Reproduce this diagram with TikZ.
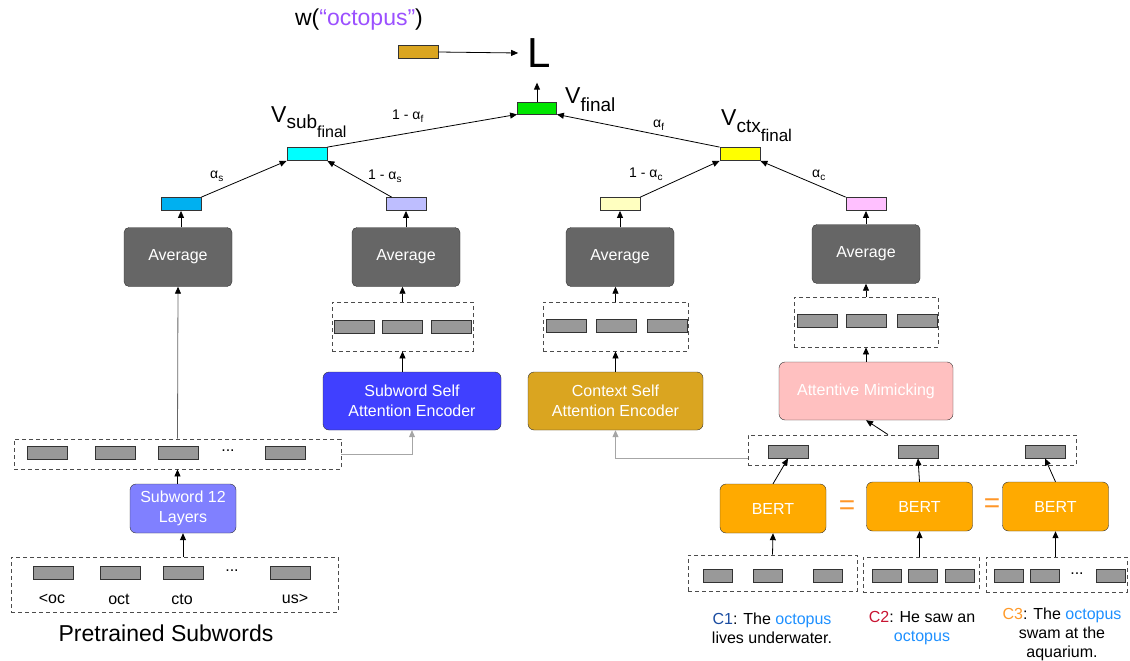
\documentclass[tikz,border=0pt]{standalone}
\usepackage{fontspec}
\setmainfont{Liberation Sans}
\usetikzlibrary{arrows.meta}
\definecolor{wgold}{RGB}{218,165,32}
\definecolor{vgreen}{RGB}{0,230,0}
\definecolor{vcyan}{RGB}{0,255,255}
\definecolor{vsky}{RGB}{0,176,240}
\definecolor{vlav}{RGB}{190,190,255}
\definecolor{vcream}{RGB}{255,255,192}
\definecolor{vyellow}{RGB}{255,255,0}
\definecolor{vpink}{RGB}{255,192,255}
\definecolor{avggray}{RGB}{102,102,102}
\definecolor{vecgray}{RGB}{153,153,153}
\definecolor{subblue}{RGB}{64,64,255}
\definecolor{layblue}{RGB}{128,128,255}
\definecolor{mimpink}{RGB}{255,192,192}
\definecolor{bertorange}{RGB}{255,170,0}
\definecolor{eqorange}{RGB}{255,150,40}
\definecolor{wpurple}{RGB}{155,80,255}
\definecolor{cone}{RGB}{25,75,160}
\definecolor{ctwo}{RGB}{200,20,50}
\definecolor{cthree}{RGB}{255,153,40}
\definecolor{octblue}{RGB}{30,144,255}
\tikzset{
  vec/.style={draw=black!80, line width=0.8pt, fill=vecgray, minimum width=40pt, minimum height=13pt, inner sep=0pt},
  tok/.style={vec, minimum width=29pt},
  dashbox/.style={draw=black!70, line width=0.8pt, dash pattern=on 4pt off 3pt, inner sep=0pt},
  avgbox/.style={draw=black!80, fill=avggray, rounded corners=5pt, minimum width=108pt, minimum height=59pt, text=white, font=\fontsize{16}{19}\selectfont},
  block/.style={draw=black!80, rounded corners=6pt, minimum width=106pt, minimum height=49pt, text=white, align=center, font=\fontsize{16}{20}\selectfont},
  arr/.style={-{Triangle[length=7pt,width=6pt]}, line width=0.8pt},
  grayarr/.style={arr, draw=black!35},
  wt/.style={font=\fontsize{14}{16}\selectfont, inner sep=0pt, anchor=base west},
  txt/.style={font=\fontsize{16}{19}\selectfont, inner sep=0pt, align=center},
}
\begin{document}
\begin{tikzpicture}[x=1pt,y=-1pt]
  \useasboundingbox (0,0) rectangle (1130,661);
  % loss
  \node[font=\fontsize{23}{26}\selectfont, inner sep=0pt] (wlbl) at (359,20) {w(\textcolor{wpurple}{“octopus”})};
  \node[vec, fill=wgold] (wvec) at (418,52) {};
  \node[font=\fontsize{42}{42}\selectfont, inner xsep=9pt, inner ysep=15pt] (loss) at (539,53) {L};
  \node[vec, fill=vgreen, minimum width=39pt, minimum height=12pt] (vfinal) at (537,108) {};
  \node[inner sep=0pt, anchor=base west] (vfinallbl) at (565,103)
    {{\fontsize{23}{23}\selectfont V}\raisebox{-8pt}{\fontsize{19}{19}\selectfont final}};
  % combined vectors
  \node[vec, fill=vcyan] (vsub) at (307,154) {};
  \node[vec, fill=vyellow] (vctx) at (740,154) {};
  \node[inner sep=0pt, anchor=base west] (vsublbl) at (271,122)
    {{\fontsize{23}{23}\selectfont V}\raisebox{-6pt}{\fontsize{19}{19}\selectfont sub\raisebox{-9pt}{\fontsize{16}{16}\selectfont final}}};
  \node[inner sep=0pt, anchor=base west] (vctxlbl) at (721,125)
    {{\fontsize{23}{23}\selectfont V}\raisebox{-7pt}{\fontsize{19}{19}\selectfont ctx\raisebox{-9pt}{\fontsize{17}{17}\selectfont final}}};
  \node[vec, fill=vsky] (vsubl) at (181,204) {};
  \node[vec, fill=vlav] (vsubr) at (406,204) {};
  \node[vec, fill=vcream] (vctxl) at (620,204) {};
  \node[vec, fill=vpink] (vctxr) at (866,204) {};
  % weights
  \node[wt] (af1) at (392,119) {1 - α\raisebox{-3pt}{\fontsize{10}{10}\selectfont f}};
  \node[wt] (af2) at (653,127) {α\raisebox{-3pt}{\fontsize{10}{10}\selectfont f}};
  \node[wt] (as1) at (210,178) {α\raisebox{-3pt}{\fontsize{10}{10}\selectfont s}};
  \node[wt] (as2) at (368,179) {1 - α\raisebox{-3pt}{\fontsize{10}{10}\selectfont s}};
  \node[wt] (ac1) at (629,177) {1 - α\raisebox{-3pt}{\fontsize{10}{10}\selectfont c}};
  \node[wt] (ac2) at (812,177) {α\raisebox{-3pt}{\fontsize{10}{10}\selectfont c}};
  % averages
  \node[avgbox] (avg1) at (178,257) {Average};
  \node[avgbox] (avg2) at (406,257) {Average};
  \node[avgbox] (avg3) at (620,257) {Average};
  \node[avgbox] (avg4) at (866,254) {Average};
  % subword branch
  \node[dashbox, minimum width=327pt, minimum height=30pt] (subrow) at (177.5,454) {};
  \node[vec] (sr1) at (47,452.5) {};
  \node[vec] (sr2) at (115,452.5) {};
  \node[vec] (sr3) at (178,452.5) {};
  \node[txt] (srdots) at (228,451) {...};
  \node[vec] (sr4) at (285.5,452.5) {};
  \node[block, fill=layblue] (sub12) at (183,508.5) {Subword 12\\Layers};
  \node[dashbox, minimum width=327pt, minimum height=55pt] (inrow) at (174.5,584.5) {};
  \node[vec] (ir1) at (53,573) {};
  \node[vec] (ir2) at (120,573) {};
  \node[vec] (ir3) at (183,573) {};
  \node[txt] (irdots) at (232,571) {...};
  \node[vec] (ir4) at (290,573) {};
  \node[txt] (irl1) at (52,599) {<oc};
  \node[txt] (irl2) at (119,599) {oct};
  \node[txt] (irl3) at (182,599) {cto};
  \node[txt] (irl4) at (295,599) {us>};
  \node[font=\fontsize{23}{26}\selectfont, inner sep=0pt] (pretrained) at (166,633) {Pretrained Subwords};
  \node[block, fill=subblue, minimum width=178pt, minimum height=58pt] (subatt) at (412,401) {Subword Self\\Attention Encoder};
  \node[dashbox, minimum width=141pt, minimum height=49pt] (subattout) at (402.5,326.5) {};
  \node[vec] (so1) at (354,327) {};
  \node[vec] (so2) at (402.5,327) {};
  \node[vec] (so3) at (451,327) {};
  % context branch
  \node[block, fill=wgold, minimum width=175pt, minimum height=58pt] (ctxatt) at (615.5,401) {Context Self\\Attention Encoder};
  \node[dashbox, minimum width=145pt, minimum height=49pt] (ctxattout) at (615.5,326.5) {};
  \node[vec] (co1) at (566.5,325.5) {};
  \node[vec] (co2) at (616,325.5) {};
  \node[vec] (co3) at (667,325.5) {};
  \node[block, fill=mimpink, minimum width=174pt, minimum height=58pt] (mim) at (866,391) {Attentive Mimicking};
  \node[dashbox, minimum width=144pt, minimum height=50pt] (mimout) at (866,322) {};
  \node[vec] (mo1) at (817,321) {};
  \node[vec] (mo2) at (866,321) {};
  \node[vec] (mo3) at (917,321) {};
  \node[dashbox, minimum width=328pt, minimum height=30pt] (bertrow) at (912,450) {};
  \node[vec] (bo1) at (788,451.5) {};
  \node[vec] (bo2) at (918,451.5) {};
  \node[vec] (bo3) at (1045,451.5) {};
  \node[block, fill=bertorange] (bert1) at (773,508.5) {BERT};
  \node[block, fill=bertorange] (bert2) at (919.5,506.5) {BERT};
  \node[block, fill=bertorange] (bert3) at (1055.5,506.5) {BERT};
  \node[text=eqorange, font=\fontsize{28}{28}\selectfont, inner sep=0pt] (eq1) at (847,508) {=};
  \node[text=eqorange, font=\fontsize{28}{28}\selectfont, inner sep=0pt] (eq2) at (992,506) {=};
  \node[dashbox, minimum width=169pt, minimum height=36pt] (in1) at (772.5,573) {};
  \node[tok] (i11) at (717.5,575.5) {};
  \node[tok] (i12) at (768,575.5) {};
  \node[tok] (i13) at (827.5,575.5) {};
  \node[dashbox, minimum width=116pt, minimum height=35pt] (in2) at (921,574.5) {};
  \node[tok] (i21) at (887,575.5) {};
  \node[tok] (i22) at (922.5,575.5) {};
  \node[tok] (i23) at (960,575.5) {};
  \node[dashbox, minimum width=141pt, minimum height=35pt] (in3) at (1056.5,574.5) {};
  \node[tok] (i31) at (1008.5,575.5) {};
  \node[tok] (i32) at (1044.5,575.5) {};
  \node[txt] (i3dots) at (1077,574) {...};
  \node[tok] (i33) at (1110.5,575.5) {};
  % contexts
  \node[txt] (cap1) at (772,628.5) {\textcolor{cone}{C1}: The \textcolor{octblue}{octopus}\\lives underwater.};
  \node[txt] (cap2) at (922,628.5) {\textcolor{ctwo}{C2}: He saw an\\\textcolor{octblue}{octopus}};
  \node[txt] (cap3) at (1062,634) {\textcolor{cthree}{C3}: The \textcolor{octblue}{octopus}\\swam at the\\aquarium.};
  % connectors
  \draw[arr] (wvec.east) -- (loss.west);
  \draw[arr] (vfinal.north) -- (vfinal.north |- loss.south);
  \draw[arr] (vsub.north east) -- (vfinal.south west);
  \draw[arr] (vctx.north west) -- (vfinal.south east);
  \draw[arr] (vsubl.north east) -- (vsub.south west);
  \draw[arr] ([xshift=6pt]vsubr.north west) -- (vsub.south east);
  \draw[arr] (vctxl.north east) -- (vctx.south west);
  \draw[arr] (vctxr.north west) -- (vctx.south east);
  \draw[arr] (avg1.north -| vsubl.south) -- (vsubl.south);
  \draw[arr] (avg2.north) -- (vsubr.south);
  \draw[arr] (avg3.north) -- (vctxl.south);
  \draw[arr] (avg4.north) -- (vctxr.south);
  \draw[-{Triangle[length=7pt,width=6pt,black]}, line width=0.8pt, draw=black!60] (subrow.north) -- (avg1.south);
  \draw[arr] (sub12.north -| subrow.north) -- (subrow.south);
  \draw[arr] (inrow.north -| sub12.south) -- (sub12.south);
  \draw[arr] (subatt.north -| subattout.south) -- (subattout.south);
  \draw[arr] (subattout.north) -- (subattout.north |- avg2.south);
  \draw[grayarr] (subrow.east) -| (subatt.south);
  \draw[arr] (ctxatt.north) -- (ctxattout.south);
  \draw[arr] (ctxattout.north) -- (ctxattout.north |- avg3.south);
  \draw[grayarr] ([yshift=-8pt]bertrow.west) -| (ctxatt.south);
  \draw[arr] (mim.north) -- (mimout.south);
  \draw[arr] (mimout.north) -- (avg4.south);
  \draw[arr] ([xshift=-24pt]bertrow.north) -- (mim.south);
  \draw[arr] (bert1.north) -- (bo1.south);
  \draw[arr] (bert2.north) -- (bo2.south);
  \draw[arr] (bert3.north) -- (bo3.south);
  \draw[arr] (in1.north) -- (bert1.south);
  \draw[arr] (in2.north -| bert2.south) -- (bert2.south);
  \draw[arr] (in3.north -| bert3.south) -- (bert3.south);
\end{tikzpicture}
\end{document}
